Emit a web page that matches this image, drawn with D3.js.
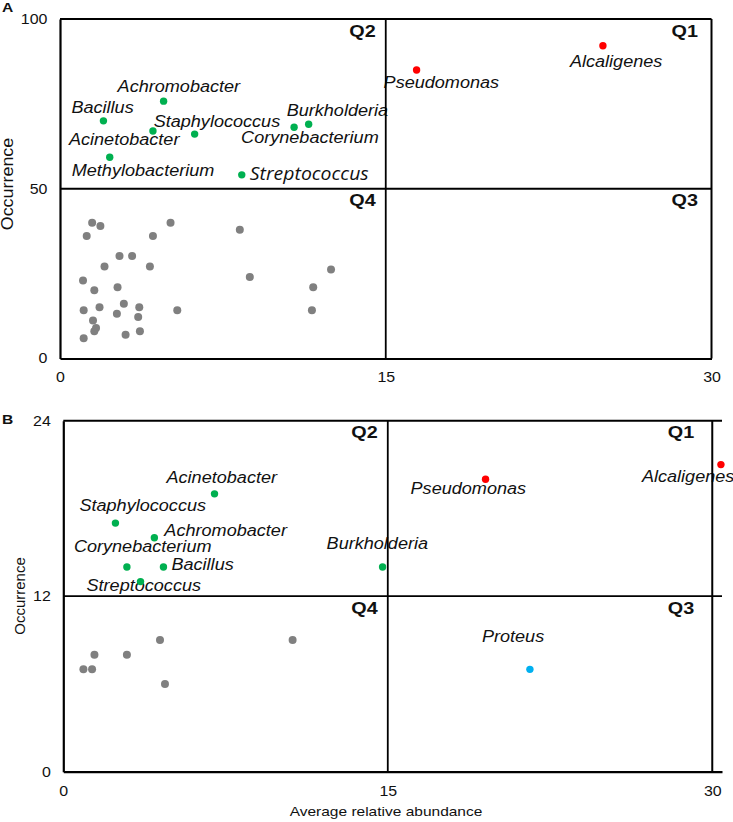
<!DOCTYPE html>
<html><head><meta charset="utf-8">
<script src="https://cdn.jsdelivr.net/npm/d3@7"></script>
<style>body{margin:0;background:#fff}svg{display:block}</style>
</head><body>
<script>
// ---------- DATA ----------
// Panel A
const xTicksA = [0, 15, 30];
const yTicksA = [0, 50, 100];
const greenNamesA = ["Bacillus","Achromobacter","Acinetobacter","Staphylococcus","Methylobacterium","Streptococcus","Corynebacterium","Burkholderia"];
const greenAbundA = [2.0, 4.77, 4.28, 6.2, 2.29, 8.37, 10.78, 11.45];
const greenOccA   = [70.0, 75.8, 67.0, 66.1, 59.3, 54.1, 68.1, 69.0];
const redNamesA = ["Pseudomonas","Alcaligenes"];
const redAbundA = [16.42, 25.0];
const redOccA   = [85.0, 92.1];
const grayAbundA = [1.48,1.86,1.23,5.09,4.28,8.28,2.74,3.32,2.05,4.14,12.48,8.74,1.06,1.58,2.65,11.66,1.09,1.82,2.94,3.65,2.62,3.6,5.4,11.6,1.52,1.66,1.58,3.02,3.68,1.09];
const grayOccA   = [40.0,39.0,36.1,40.0,36.1,37.9,30.2,30.2,27.1,27.1,26.2,24.0,23.0,20.1,21.0,21.0,14.2,15.1,16.1,15.1,13.2,12.2,14.2,14.2,11.2,9.0,8.0,7.0,8.0,6.0];

// Panel B
const xTicksB = [0, 15, 30];
const yTicksB = [0, 12, 24];
const greenNamesB = ["Acinetobacter","Staphylococcus","Achromobacter","Corynebacterium","Bacillus","Streptococcus","Burkholderia"];
const greenAbundB = [6.99, 2.41, 4.21, 2.94, 4.63, 3.57, 14.76];
const greenOccB   = [19, 17, 16, 14, 14, 13, 14];
const redNamesB = ["Pseudomonas","Alcaligenes"];
const redAbundB = [19.52, 30.4];
const redOccB   = [20, 21];
const blueNamesB = ["Proteus"];
const blueAbundB = [21.57];
const blueOccB   = [7];
const grayAbundB = [0.93, 1.33, 1.44, 2.94, 4.47, 4.70, 10.6];
const grayOccB   = [7, 7, 8, 8, 9, 6, 9];

const xTitle = "Average relative abundance";
const yTitle = "Occurrence";

// ---------- LAYOUT / STYLE ----------
const W = 733, H = 822;
const FONT = "'Liberation Sans', Arial, sans-serif";
const C = {green:"#00B050", red:"#FF0000", gray:"#808080", blue:"#00B0F0", text:"#111"};

// label offsets (pixels from point to label's left/baseline)
const labelOffA = {
  "Achromobacter":[-46,-9], "Bacillus":[-32,-8], "Staphylococcus":[-41,-7], "Acinetobacter":[-84,14],
  "Burkholderia":[-22,-8], "Corynebacterium":[-53,16], "Methylobacterium":[-38,19], "Streptococcus":[8,5.5],
  "Pseudomonas":[-33,18], "Alcaligenes":[-33,21]
};
const labelOffB = {
  "Acinetobacter":[-48,-11], "Staphylococcus":[-36,-12], "Achromobacter":[10,-2], "Corynebacterium":[-53,-15],
  "Bacillus":[8,3], "Streptococcus":[-54,9], "Burkholderia":[-56,-18], "Pseudomonas":[-75,15],
  "Alcaligenes":[-79,17], "Proteus":[-48,-27]
};

const svg = d3.select("body").append("svg").attr("width", W).attr("height", H);

function txt(g, x, y, s, o) {
  o = o || {};
  const sx = o.sx || 1;
  const rot = o.rot ? ` rotate(${o.rot})` : "";
  return g.append("text")
    .attr("transform", `translate(${x},${y})${rot} scale(${sx},1)`)
    .attr("text-anchor", o.anchor || "start")
    .attr("font-family", o.family || FONT)
    .attr("font-size", o.size || 14)
    .attr("font-weight", o.weight || "normal")
    .attr("font-style", o.style || "normal")
    .attr("fill", C.text)
    .text(s);
}

function zip(names, xs, ys) { return xs.map((v, i) => ({name: names ? names[i] : null, x: v, y: ys[i]})); }

function panel(cfg) {
  const g = svg.append("g");
  const x = cfg.x, y = cfg.y;
  const [x0, x1] = x.domain(); const [y0, y1] = y.domain();

  // labels first (lines drawn over them as in the reference)
  cfg.groups.forEach(gr => {
    if (!gr.names) return;
    zip(gr.names, gr.xs, gr.ys).forEach(d => {
      const off = cfg.offsets[d.name];
      const special = cfg.special && cfg.special[d.name];
      txt(g, x(d.x) + off[0], y(d.y) + off[1], d.name, {
        size: special ? 18.5 : 16, style: "italic", sx: special ? 1.05 : 1.13,
        family: special ? "'Open Sans', sans-serif" : FONT
      });
    });
  });

  // axes
  const ax = g.append("g").attr("transform", `translate(0,${y(y0)})`)
    .call(d3.axisBottom(x).tickValues(cfg.xTicks).tickSize(0).tickSizeOuter(0).tickPadding(14).tickFormat(d3.format("d")));
  const ay = g.append("g").attr("transform", `translate(${x(x0)},0)`)
    .call(d3.axisLeft(y).tickValues(cfg.yTicks).tickSize(0).tickSizeOuter(0).tickPadding(11).tickFormat(d3.format("d")));
  [ax, ay].forEach(a => {
    a.attr("font-family", FONT).attr("font-size", 14);
    a.select(".domain").attr("stroke", "#000").attr("stroke-width", 2.2);
    a.selectAll(".tick text").attr("fill", C.text).attr("transform", "scale(1.14,1)");
  });

  // quadrant lines
  const lw = 1.8;
  g.append("line").attr("x1", x(0)).attr("x2", x(x1)).attr("y1", y(y1)).attr("y2", y(y1)).attr("stroke", "#000").attr("stroke-width", 2);
  g.append("line").attr("x1", x(0)).attr("x2", x(x1)).attr("y1", y(cfg.ymid)).attr("y2", y(cfg.ymid)).attr("stroke", "#000").attr("stroke-width", lw);
  g.append("line").attr("x1", x(15)).attr("x2", x(15)).attr("y1", y(y0)).attr("y2", y(y1)).attr("stroke", "#000").attr("stroke-width", lw);
  g.append("line").attr("x1", x(30)).attr("x2", x(30)).attr("y1", y(y0)).attr("y2", y(y1)).attr("stroke", "#000").attr("stroke-width", 2);

  // quadrant labels
  const qs = {size: 16.5, weight: "bold", anchor: "end", sx: 1.2};
  txt(g, x(15) - 10, y(y1) + 17.5, "Q2", qs);
  txt(g, x(30) - cfg.qRight, y(y1) + 17.5, "Q1", qs);
  txt(g, x(15) - 10, y(cfg.ymid) + 17.5, "Q4", qs);
  txt(g, x(30) - cfg.qRight, y(cfg.ymid) + 17.5, "Q3", qs);

  // points
  cfg.groups.forEach(gr => {
    g.append("g").selectAll("circle").data(zip(gr.names, gr.xs, gr.ys)).join("circle")
      .attr("cx", d => x(d.x)).attr("cy", d => y(d.y)).attr("r", gr.r).attr("fill", gr.color);
  });

  // panel letter and y title
  txt(g, 2, cfg.letterY, cfg.letter, {size: 13, weight: "bold", sx: 1.2});
  txt(g, cfg.yTitleX, cfg.yTitleY, yTitle, {size: cfg.yTitleSize, anchor: "middle", rot: -90, sx: cfg.yTitleSx});
}

panel({
  x: d3.scaleLinear().domain([0, 30]).range([60, 711.5]),
  y: d3.scaleLinear().domain([0, 100]).range([358.5, 19]),
  xTicks: xTicksA, yTicks: yTicksA, ymid: 50, qRight: 13.5,
  offsets: labelOffA, special: {"Streptococcus": true},
  groups: [
    {names: null, xs: grayAbundA, ys: grayOccA, color: C.gray, r: 4},
    {names: greenNamesA, xs: greenAbundA, ys: greenOccA, color: C.green, r: 3.7},
    {names: redNamesA, xs: redAbundA, ys: redOccA, color: C.red, r: 3.7}
  ],
  letter: "A", letterY: 12, yTitleX: 13, yTitleY: 184, yTitleSize: 16, yTitleSx: 1.12
});

panel({
  x: d3.scaleLinear().domain([0, 30.45]).range([63.3, 722]),
  y: d3.scaleLinear().domain([0, 24]).range([771.7, 420.7]),
  xTicks: xTicksB, yTicks: yTicksB, ymid: 12, qRight: 18,
  offsets: labelOffB,
  groups: [
    {names: null, xs: grayAbundB, ys: grayOccB, color: C.gray, r: 4},
    {names: greenNamesB, xs: greenAbundB, ys: greenOccB, color: C.green, r: 3.7},
    {names: redNamesB, xs: redAbundB, ys: redOccB, color: C.red, r: 3.7},
    {names: blueNamesB, xs: blueAbundB, ys: blueOccB, color: C.blue, r: 3.7}
  ],
  letter: "B", letterY: 424, yTitleX: 25, yTitleY: 596, yTitleSize: 15, yTitleSx: 1.0
});

txt(svg, 386, 816, xTitle, {size: 12.5, anchor: "middle", sx: 1.24});
</script>
</body></html>
